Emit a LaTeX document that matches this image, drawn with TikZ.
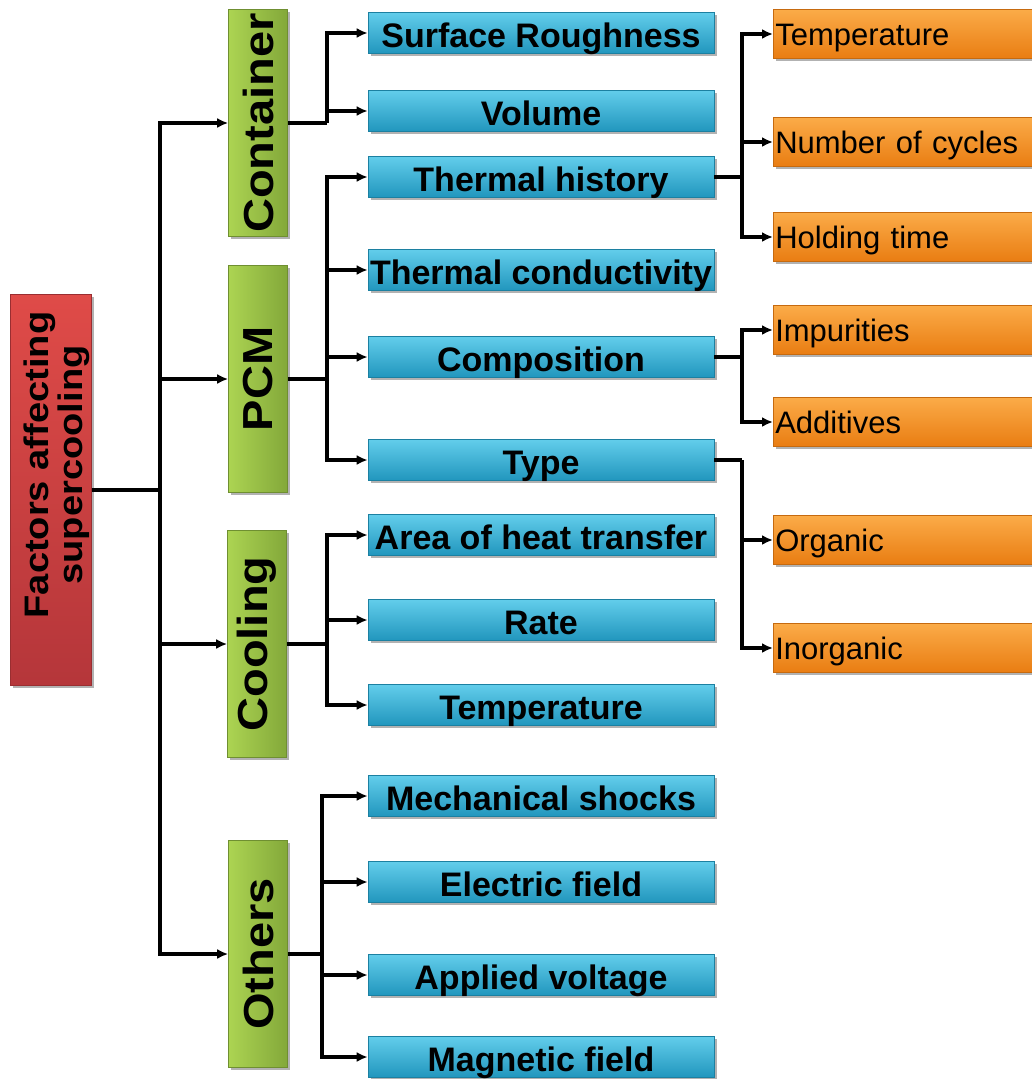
\documentclass[tikz,border=0pt]{standalone}
\usepackage{fontspec}
\setmainfont{Liberation Sans}
\newfontfamily\tallfont[FakeStretch=1.12]{Liberation Sans}
\usepackage{tikz}
\usetikzlibrary{arrows.meta, calc, shadows}
\definecolor{rootTop}{RGB}{223,75,72}
\definecolor{rootBot}{RGB}{181,54,58}
\definecolor{grpLeft}{RGB}{172,212,82}
\definecolor{grpRight}{RGB}{131,168,58}
\definecolor{facTop}{RGB}{98,205,235}
\definecolor{facBot}{RGB}{33,150,189}
\definecolor{detTop}{RGB}{251,171,72}
\definecolor{detBot}{RGB}{233,125,18}
\tikzset{
  box/.style={line width=0.6pt, inner sep=0pt,
    drop shadow={shadow xshift=2.5pt, shadow yshift=-2.5pt, opacity=0.3, fill=black}},
  rootbox/.style={box, draw=rootBot!85!black, top color=rootTop, bottom color=rootBot,
    minimum width=81, minimum height=391},
  rootlabel/.style={inner sep=0pt, font=\tallfont\bfseries\fontsize{34}{33}\selectfont},
  groupbox/.style={box, draw=grpRight!85!black, left color=grpLeft, right color=grpRight,
    minimum width=59, minimum height=227, font=\tallfont\bfseries\fontsize{42}{44}\selectfont},
  factorbox/.style={box, draw=facBot!85!black, top color=facTop, bottom color=facBot,
    minimum width=346, minimum height=41, text height=30, text depth=2,
    font=\bfseries\fontsize{34}{36}\selectfont},
  detailbox/.style={box, draw=detBot!85!black, top color=detTop, bottom color=detBot,
    anchor=west, minimum height=49, text width=266, align=left, inner xsep=2,
    text height=26, text depth=4, font=\fontsize{31}{34}\selectfont},
  link/.style={line width=3.4pt},
  arr/.style={link, -{Latex[length=11pt,width=10pt]}},
}
\begin{document}
\begin{tikzpicture}[x=1pt, y=-1pt]
  \useasboundingbox (0,0) rectangle (1032,1079);

  % root and groups
  \node[rootbox] (root) at (51,490) {};
  \node[rootlabel] (rootText) at (58,465)
    {\rotatebox{90}{\begin{tabular}{@{}c@{}}Factors affecting\\supercooling\end{tabular}}};
  \node[groupbox] (cont) at (258,123) {\rotatebox{90}{Container}};
  \node[groupbox] (pcm) at (258,379) {\rotatebox{90}{PCM}};
  \node[groupbox] (cool) at (257,644) {\rotatebox{90}{Cooling}};
  \node[groupbox] (oth) at (258,954) {\rotatebox{90}{Others}};

  % factors
  \node[factorbox] (rough) at (541,33) {Surface Roughness};
  \node[factorbox] (vol) at (541,111) {Volume};
  \node[factorbox] (hist) at (541,177) {Thermal history};
  \node[factorbox] (cond) at (541,270) {Thermal conductivity};
  \node[factorbox] (comp) at (541,357) {Composition};
  \node[factorbox] (type) at (541,460) {Type};
  \node[factorbox] (area) at (541,535) {Area of heat transfer};
  \node[factorbox] (rate) at (541,620) {Rate};
  \node[factorbox] (ctemp) at (541,705) {Temperature};
  \node[factorbox] (shock) at (541,796) {Mechanical shocks};
  \node[factorbox] (efield) at (541,882) {Electric field};
  \node[factorbox] (volt) at (541,975) {Applied voltage};
  \node[factorbox] (mfield) at (541,1057) {Magnetic field};

  % details
  \node[detailbox] (htemp) at (773,34) {Temperature};
  \node[detailbox] (cyc) at (773,142) {Number of cycles};
  \node[detailbox] (hold) at (773,237) {Holding time};
  \node[detailbox] (imp) at (773,330) {Impurities};
  \node[detailbox] (add) at (773,422) {Additives};
  \node[detailbox] (org) at (773,540) {Organic};
  \node[detailbox] (inorg) at (773,648) {Inorganic};

  % buses
  \coordinate (spine) at (160,0);
  \coordinate (busB) at (327,0);
  \coordinate (busO) at (322,0);
  \coordinate (busC) at (742,0);

  \draw[link] (root.east) -- (spine |- root.east);
  \foreach \g in {cont,pcm,cool,oth}
    \draw[arr] (spine |- root.east) |- (\g.west);

  \draw[link] (cont.east) -- (busB |- cont.east);
  \foreach \f in {rough,vol}
    \draw[arr] (busB |- cont.east) |- (\f.west);
  \draw[link] (pcm.east) -- (busB |- pcm.east);
  \foreach \f in {hist,cond,comp,type}
    \draw[arr] (busB |- pcm.east) |- (\f.west);
  \draw[link] (cool.east) -- (busB |- cool.east);
  \foreach \f in {area,rate,ctemp}
    \draw[arr] (busB |- cool.east) |- (\f.west);
  \draw[link] (oth.east) -- (busO |- oth.east);
  \foreach \f in {shock,efield,volt,mfield}
    \draw[arr] (busO |- oth.east) |- (\f.west);

  \draw[link] (hist.east) -- (busC |- hist.east);
  \foreach \d in {htemp,cyc,hold}
    \draw[arr] (busC |- hist.east) |- (\d.west);
  \draw[link] (comp.east) -- (busC |- comp.east);
  \foreach \d in {imp,add}
    \draw[arr] (busC |- comp.east) |- (\d.west);
  \draw[link] (type.east) -- (busC |- type.east);
  \foreach \d in {org,inorg}
    \draw[arr] (busC |- type.east) |- (\d.west);
\end{tikzpicture}
\end{document}
